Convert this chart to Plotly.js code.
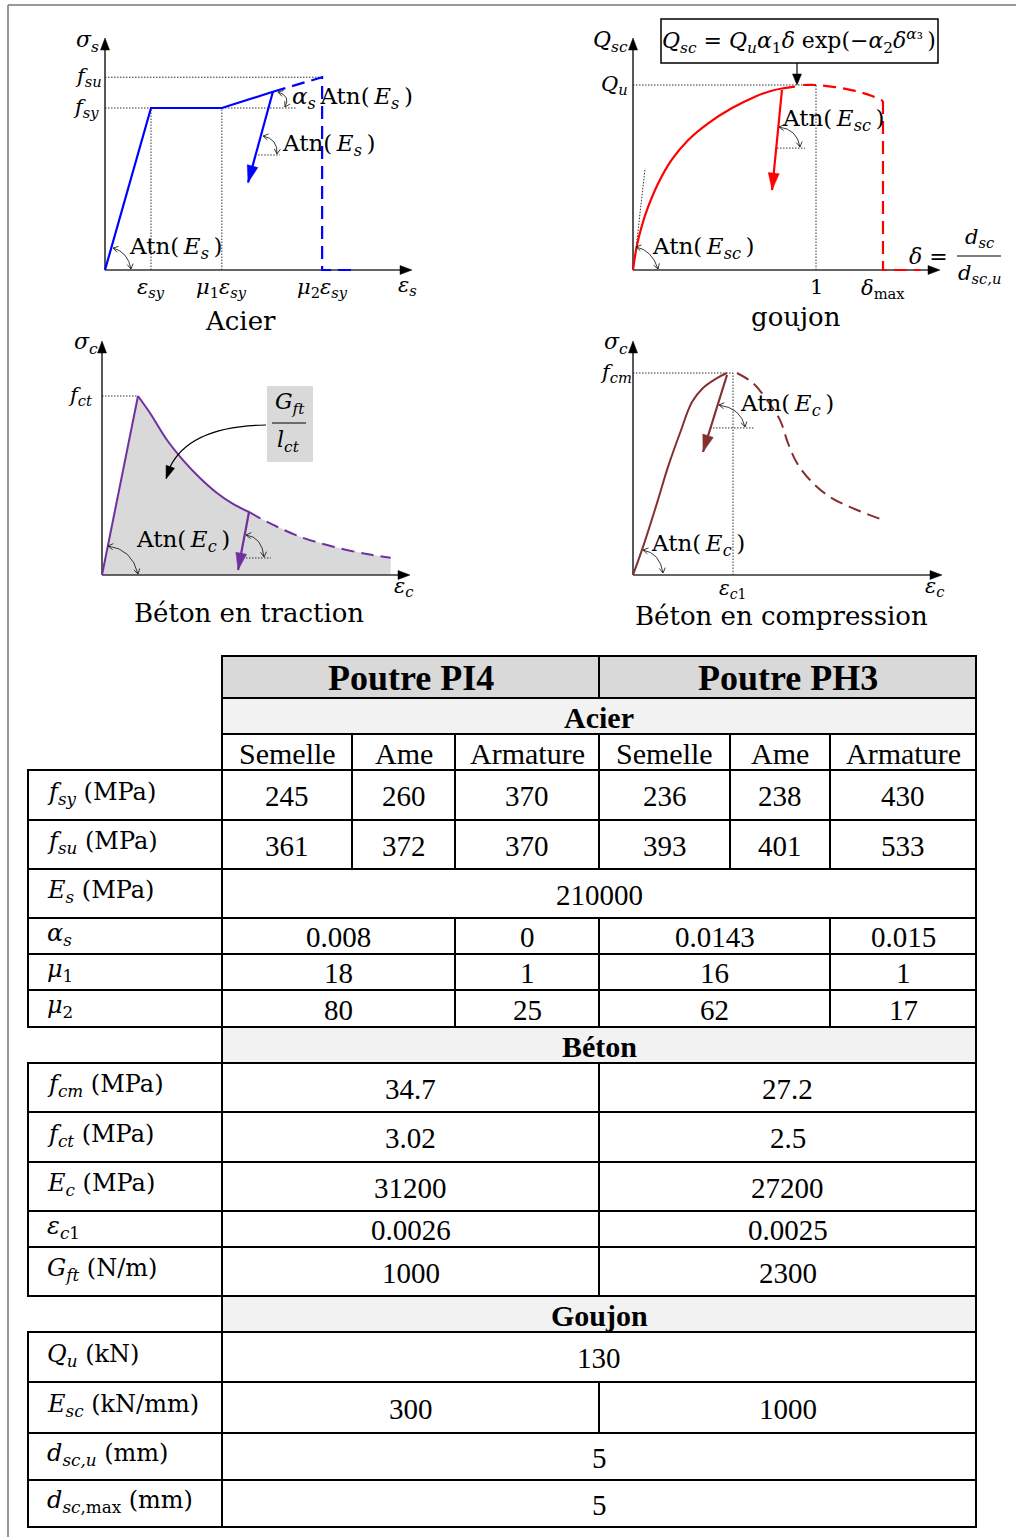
<!DOCTYPE html>
<html><head><meta charset="utf-8">
<script src="https://cdn.plot.ly/plotly-3.0.1.min.js"></script>
<style>html,body{margin:0;padding:0;background:#fff}#chart{width:1016px;height:1537px}</style>
</head><body><div id="chart"></div>
<script>
// ================= DIAGRAM DATA (schematic, normalised units) =================
// Acier : x = eps/eps_sy , y = sigma/f_sy
const acierSolidX = [0, 1, 2.54, 3.65];
const acierSolidY = [0, 1, 1, 1.10];
const acierDashX = [3.65, 4.72, 4.72, 5.37];
const acierDashY = [1.10, 1.19, 0, 0];
const acierUnloadX = [3.65, 3.11];
const acierUnloadY = [1.10, 0.54];
const acierTickX = [1, 2.54, 4.72];
const acierTickXText = ['<i>ε</i><sub><i>sy</i></sub>', '<i>μ</i><sub>1</sub><i>ε</i><sub><i>sy</i></sub>', '<i>μ</i><sub>2</sub><i>ε</i><sub><i>sy</i></sub>'];
const acierTickY = [1, 1.19];
const acierTickYText = ['<i>f</i><sub><i>sy</i></sub>', '<i>f</i><sub><i>su</i></sub>'];
const acierGuideFsyX = [0, 4.15];
const acierGuideFsuX = [0, 4.72];
const acierGuideUnloadX = [3.33, 3.80];
const acierGuideUnloadY = 0.71;

// Goujon : x = delta = d_sc/d_sc,u , y = Q/Q_u
const goujonSolidX = [0, 0.020, 0.047, 0.083, 0.138, 0.211, 0.302, 0.411, 0.539, 0.667, 0.758, 0.821, 0.885];
const goujonSolidY = [0, 0.126, 0.234, 0.342, 0.469, 0.595, 0.703, 0.793, 0.874, 0.937, 0.969, 0.982, 0.991];
const goujonDashX = [0.93, 1.0, 1.104, 1.213, 1.306, 1.366, 1.366, 1.57];
const goujonDashY = [1.0, 1.0, 0.989, 0.968, 0.941, 0.914, 0, 0];
const goujonTangentX = [0.020, 0.066];
const goujonTangentY = [0.146, 0.55];
const goujonUnloadX = [0.814, 0.760];
const goujonUnloadY = [0.973, 0.432];
const goujonTickX = [1, 1.366];
const goujonTickXText = ['1', '<i>δ</i><sub>max</sub>'];
const goujonTickY = [1];
const goujonTickYText = ['<i>Q</i><sub><i>u</i></sub>'];
const goujonGuideUnloadX = [0.787, 0.94];
const goujonGuideUnloadY = 0.659;

// Béton en traction : x = eps/eps_ct , y = sigma/f_ct
const tracRiseX = [0, 1];
const tracRiseY = [0, 1];
const tracSolidX = [1, 1.333, 1.806, 2.25, 2.722, 3.194, 3.639, 4.083];
const tracSolidY = [1, 0.905, 0.754, 0.642, 0.542, 0.458, 0.397, 0.352];
const tracDashX = [4.083, 4.575, 5.5, 6.425, 7.353, 8.019];
const tracDashY = [0.352, 0.298, 0.214, 0.158, 0.117, 0.097];
const tracUnloadX = [4.083, 3.78];
const tracUnloadY = [0.352, 0.028];
const tracTickY = [1];
const tracTickYText = ['<i>f</i><sub><i>ct</i></sub>'];
const tracGuideUnloadX = [4.0, 4.69];
const tracGuideUnloadY = 0.095;

// Béton en compression : x = eps/eps_c1 , y = sigma/f_cm
const compSolidX = [0, 0.10, 0.24, 0.35, 0.47, 0.59, 0.70, 0.84, 0.94];
const compSolidY = [0, 0.139, 0.356, 0.535, 0.703, 0.856, 0.926, 0.975, 1.0];
const compDashX = [1.04, 1.20, 1.34, 1.47, 1.55, 1.64, 1.77, 1.97, 2.24, 2.53];
const compDashY = [1.0, 0.950, 0.866, 0.767, 0.653, 0.554, 0.470, 0.386, 0.322, 0.267];
const compUnloadX = [0.94, 0.70];
const compUnloadY = [0.99, 0.609];
const compTickX = [1];
const compTickXText = ['<i>ε</i><sub><i>c</i>1</sub>'];
const compTickY = [1];
const compTickYText = ['<i>f</i><sub><i>cm</i></sub>'];
const compGuideUnloadX = [0.77, 1.22];
const compGuideUnloadY = 0.728;

// ================= TABLE DATA =================
const beams = ['Poutre PI4', 'Poutre PH3'];
const sections = ['Acier', 'Béton', 'Goujon'];
const parts = ['Semelle', 'Ame', 'Armature', 'Semelle', 'Ame', 'Armature'];
const fsy = [245, 260, 370, 236, 238, 430];
const fsu = [361, 372, 370, 393, 401, 533];
const Es = [210000];
const alphaS = [0.008, 0, 0.0143, 0.015];
const mu1 = [18, 1, 16, 1];
const mu2 = [80, 25, 62, 17];
const fcm = [34.7, 27.2];
const fct = [3.02, 2.5];
const Ec = [31200, 27200];
const epsC1 = [0.0026, 0.0025];
const Gft = [1000, 2300];
const Qu = [130];
const Esc = [300, 1000];
const dscU = [5];
const dscMax = [5];
const rowLabels = {
  fsy: '<i>f</i><sub><i>sy</i></sub> (MPa)', fsu: '<i>f</i><sub><i>su</i></sub> (MPa)',
  Es: '<i>E</i><sub><i>s</i></sub> (MPa)', alphaS: '<i>α</i><sub><i>s</i></sub>',
  mu1: '<i>μ</i><sub>1</sub>', mu2: '<i>μ</i><sub>2</sub>',
  fcm: '<i>f</i><sub><i>cm</i></sub> (MPa)', fct: '<i>f</i><sub><i>ct</i></sub> (MPa)',
  Ec: '<i>E</i><sub><i>c</i></sub> (MPa)', epsC1: '<i>ε</i><sub><i>c</i>1</sub>',
  Gft: '<i>G</i><sub><i>ft</i></sub> (N/m)', Qu: '<i>Q</i><sub><i>u</i></sub> (kN)',
  Esc: '<i>E</i><sub><i>sc</i></sub> (kN/mm)', dscU: '<i>d</i><sub><i>sc,u</i></sub> (mm)',
  dscMax: '<i>d</i><sub><i>sc</i>,max</sub> (mm)'
};

// ================= LAYOUT HELPERS =================
const W = 1016, H = 1537;
const FM = 'DejaVu Serif, serif';
const FT = 'Liberation Serif, Times New Roman, serif';
const BLUE = '#0000ff', RED = '#ff0000', PURPLE = '#7030a0', BROWN = '#843030';
const PAD = 6;
const TS = '\u2009';
function atn(sub) { return 'Atn(' + TS + '<i>E</i><sub><i>' + sub + '</i></sub>' + TS + ')'; }
const D = {
  acier: {ox:105, oy:270, sx:46, sy:162, xTip:412, yTip:38, n:2},
  goujon: {ox:633, oy:270, sx:183, sy:185, xTip:940, yTip:38, n:3},
  trac: {ox:102, oy:575, sx:36, sy:179, xTip:410, yTip:341, n:4},
  comp: {ox:633, oy:575, sx:100, sy:202, xTip:942, yTip:341, n:5}
};
function px(d, x, y) { return [d.ox + x * d.sx, d.oy - y * d.sy]; }

const layout = {
  width: W, height: H, margin: {l:0, r:0, t:0, b:0},
  paper_bgcolor: '#ffffff', plot_bgcolor: 'rgba(0,0,0,0)', showlegend: false,
  xaxis: {domain:[0,1], range:[0,W], visible:false, fixedrange:true},
  yaxis: {domain:[0,1], range:[H,0], visible:false, fixedrange:true},
  shapes: [], annotations: []
};
Object.values(D).forEach(d => {
  d.xa = 'x' + d.n; d.ya = 'y' + d.n;
  layout['xaxis' + d.n] = {domain:[(d.ox - PAD) / W, d.xTip / W], range:[-PAD / d.sx, (d.xTip - d.ox) / d.sx],
    visible:false, fixedrange:true, anchor: d.ya};
  layout['yaxis' + d.n] = {domain:[1 - (d.oy + PAD) / H, 1 - d.yTip / H], range:[-PAD / d.sy, (d.oy - d.yTip) / d.sy],
    visible:false, fixedrange:true, anchor: d.xa};
});

const traces = [{type:'scatter', mode:'markers', x:[0], y:[0], xaxis:'x', yaxis:'y', marker:{opacity:0}, hoverinfo:'skip'}];
function line(d, xs, ys, color, width, dash, shape) {
  traces.push({type:'scatter', mode:'lines', x:xs, y:ys, xaxis:d.xa, yaxis:d.ya, hoverinfo:'skip',
    line:{color:color, width:width, dash:dash || 'solid', shape:shape || 'linear', smoothing:1}});
}
function guide(d, xs, ys) { line(d, xs, ys, '#333', 1, '1.5px,1.5px'); }
function axes(d) {
  line(d, [0, (d.xTip - 10 - d.ox) / d.sx], [0, 0], '#333', 1.5);
  line(d, [0, 0], [0, (d.oy - d.yTip - 10) / d.sy], '#222', 1.5);
}
function tri(tip, tail, len, half, color) {
  const dx = tip[0] - tail[0], dy = tip[1] - tail[1], L = Math.hypot(dx, dy);
  const ux = dx / L, uy = dy / L, bx = tip[0] - ux * len, by = tip[1] - uy * len;
  layout.shapes.push({type:'path', xref:'x', yref:'y', layer:'above', fillcolor:color, line:{color:color, width:0.5},
    path:`M${tip[0]},${tip[1]} L${bx - uy * half},${by + ux * half} L${bx + uy * half},${by - ux * half} Z`});
}
function chevron(tip, from) {
  const dx = tip[0] - from[0], dy = tip[1] - from[1], L = Math.hypot(dx, dy);
  const ux = dx / L, uy = dy / L, s = 5, w = 3, bx = tip[0] - ux * s, by = tip[1] - uy * s;
  return ` M${bx - uy * w},${by + ux * w} L${tip[0]},${tip[1]} L${bx + uy * w},${by - ux * w}`;
}
function arc(p0, c, p1) {
  layout.shapes.push({type:'path', xref:'x', yref:'y', layer:'above', line:{color:'#222', width:0.9},
    path:`M${p0[0]},${p0[1]} Q${c[0]},${c[1]} ${p1[0]},${p1[1]}` + chevron(p0, c) + chevron(p1, c)});
}
function txt(x, y, text, size, opts) {
  layout.annotations.push(Object.assign({xref:'x', yref:'y', x:x, y:y, text:text, showarrow:false,
    xanchor:'center', yanchor:'middle', font:{family:FM, size:size || 22, color:'#000'}}, opts || {}));
}
function dtxt(d, x, y, text, xs, ys, size) {
  layout.annotations.push({xref:d.xa, yref:d.ya, x:x, y:y, text:text, showarrow:false, xshift:xs, yshift:ys,
    xanchor:'center', yanchor:'middle', font:{family:FM, size:size || 21, color:'#000'}});
}
function axisHeads(d) {
  tri([d.xTip, d.oy], [d.ox, d.oy], 12, 4.5, '#000');
  tri([d.ox, d.yTip], [d.ox, d.oy], 12, 4.5, '#000');
}
function unload(d, xs, ys, color) {
  line(d, xs, ys, color, 2.2);
  tri(px(d, xs[1], ys[1]), px(d, xs[0], ys[0]), 17, 5.5, color);
}

// ---------- Frame ----------
layout.shapes.push({type:'line', xref:'x', yref:'y', x0:8, y0:5, x1:W, y1:5, line:{color:'#777', width:1.5}});
layout.shapes.push({type:'line', xref:'x', yref:'y', x0:8, y0:5, x1:8, y1:H, line:{color:'#777', width:1.5}});

// ---------- Acier ----------
(function () {
  const d = D.acier;
  guide(d, acierGuideFsuX, [acierTickY[1], acierTickY[1]]);
  guide(d, acierGuideFsyX, [acierTickY[0], acierTickY[0]]);
  guide(d, [acierTickX[0], acierTickX[0]], [0, 1]);
  guide(d, [acierTickX[1], acierTickX[1]], [0, 1]);
  guide(d, acierGuideUnloadX, [acierGuideUnloadY, acierGuideUnloadY]);
  axes(d);
  line(d, acierSolidX, acierSolidY, BLUE, 2.2);
  line(d, acierDashX, acierDashY, BLUE, 2.2, '13px,7px');
  unload(d, acierUnloadX, acierUnloadY, BLUE);
  axisHeads(d);
  acierTickX.forEach((v, i) => dtxt(d, v, 0, acierTickXText[i], 0, -18));
  acierTickY.forEach((v, i) => dtxt(d, 0, v, acierTickYText[i], i ? -17 : -19, 0));
  txt(87, 41, '<i>σ</i><sub><i>s</i></sub>');
  txt(407, 286, '<i>ε</i><sub><i>s</i></sub>', 21);
  txt(352, 98, '<i>α</i><sub><i>s</i></sub>' + TS + atn('s'), 23);
  txt(328, 145, atn('s'), 23);
  txt(175, 248, atn('s'), 23);
  txt(240, 321, 'Acier', 26);
  arc([113, 248], [128, 252], [131, 269]);
  arc([278, 92], [291, 96], [285, 107]);
  arc([263, 136], [278, 139], [277, 154]);
})();

// ---------- Goujon ----------
(function () {
  const d = D.goujon;
  guide(d, [0, goujonTickX[0]], [1, 1]);
  guide(d, [goujonTickX[0], goujonTickX[0]], [0, 1]);
  guide(d, goujonTangentX, goujonTangentY);
  guide(d, goujonGuideUnloadX, [goujonGuideUnloadY, goujonGuideUnloadY]);
  axes(d);
  line(d, goujonSolidX, goujonSolidY, RED, 2.2, 'solid', 'spline');
  line(d, goujonDashX.slice(0, 6), goujonDashY.slice(0, 6), RED, 2.2, '13px,7px', 'spline');
  line(d, goujonDashX.slice(5), goujonDashY.slice(5), RED, 2.2, '13px,7px');
  unload(d, goujonUnloadX, goujonUnloadY, RED);
  axisHeads(d);
  goujonTickX.forEach((v, i) => dtxt(d, v, 0, goujonTickXText[i], 0, i ? -19 : -17));
  goujonTickY.forEach((v, i) => dtxt(d, 0, v, goujonTickYText[i], -19, 0));
  txt(610, 41, '<i>Q</i><sub><i>sc</i></sub>');
  layout.shapes.push({type:'rect', xref:'x', yref:'y', x0:661, y0:19, x1:938, y1:63, line:{color:'#000', width:1.5}});
  txt(799, 41, '<i>Q</i><sub><i>sc</i></sub> = <i>Q</i><sub><i>u</i></sub><i>α</i><sub>1</sub><i>δ</i> exp(−<i>α</i><sub>2</sub><i>δ</i><sup><i>α</i>₃</sup>' + TS + ')', 22);
  layout.shapes.push({type:'line', xref:'x', yref:'y', x0:797, y0:63, x1:797, y1:78, line:{color:'#000', width:1.2}});
  tri([797, 85], [797, 63], 11, 4.5, '#000');
  txt(928, 256, '<i>δ</i> =', 22);
  txt(979, 238, '<i>d</i><sub><i>sc</i></sub>', 21);
  layout.shapes.push({type:'line', xref:'x', yref:'y', x0:957, y0:256, x1:1001, y1:256, line:{color:'#000', width:1}});
  txt(979, 274, '<i>d</i><sub><i>sc,u</i></sub>', 21);
  txt(833, 120, atn('sc'), 23);
  txt(703, 248, atn('sc'), 23);
  txt(796, 317, 'goujon', 26);
  arc([636, 247], [652, 250], [658, 269]);
  arc([779, 127], [797, 129], [800, 147]);
})();

// ---------- Béton en traction ----------
(function () {
  const d = D.trac;
  const fx = tracRiseX.concat(tracSolidX.slice(1), tracDashX.slice(1), [tracDashX[tracDashX.length - 1], 0]);
  const fy = tracRiseY.concat(tracSolidY.slice(1), tracDashY.slice(1), [0, 0]);
  traces.push({type:'scatter', mode:'lines', x:fx, y:fy, xaxis:d.xa, yaxis:d.ya, fill:'toself',
    fillcolor:'#d9d9d9', line:{width:0, color:'rgba(0,0,0,0)'}, hoverinfo:'skip'});
  guide(d, [0, 1], [1, 1]);
  guide(d, tracGuideUnloadX, [tracGuideUnloadY, tracGuideUnloadY]);
  axes(d);
  line(d, tracRiseX, tracRiseY, PURPLE, 2);
  line(d, tracSolidX, tracSolidY, PURPLE, 2, 'solid', 'spline');
  line(d, tracDashX, tracDashY, PURPLE, 2, '13px,7px', 'spline');
  unload(d, tracUnloadX, tracUnloadY, PURPLE);
  axisHeads(d);
  tracTickY.forEach((v, i) => dtxt(d, 0, v, tracTickYText[i], -22, 0));
  txt(86, 343, '<i>σ</i><sub><i>c</i></sub>');
  txt(404, 587, '<i>ε</i><sub><i>c</i></sub>', 21);
  txt(183, 541, atn('c'), 23);
  txt(249, 613, 'Béton en traction', 26);
  layout.shapes.push({type:'rect', xref:'x', yref:'y', x0:267, y0:386, x1:313, y1:462, fillcolor:'#d9d9d9', line:{width:0}});
  txt(290, 403, '<i>G</i><sub><i>ft</i></sub>', 22);
  layout.shapes.push({type:'line', xref:'x', yref:'y', x0:272, y0:423, x1:306, y1:423, line:{color:'#000', width:1}});
  txt(288, 441, '<i>l</i><sub><i>ct</i></sub>', 22);
  layout.shapes.push({type:'path', xref:'x', yref:'y', layer:'above', line:{color:'#000', width:1.2},
    path:'M266,425 Q190,426 170,467'});
  tri([166, 479], [172, 462], 13, 4.5, '#000');
  arc([108, 546], [132, 549], [138, 574]);
  arc([246, 535], [262, 537], [264, 557]);
})();

// ---------- Béton en compression ----------
(function () {
  const d = D.comp;
  guide(d, [0, compTickX[0]], [1, 1]);
  guide(d, [compTickX[0], compTickX[0]], [0, 1]);
  guide(d, compGuideUnloadX, [compGuideUnloadY, compGuideUnloadY]);
  axes(d);
  line(d, compSolidX, compSolidY, BROWN, 2, 'solid', 'spline');
  line(d, compDashX, compDashY, BROWN, 2, '13px,7px', 'spline');
  unload(d, compUnloadX, compUnloadY, BROWN);
  axisHeads(d);
  compTickX.forEach((v, i) => dtxt(d, v, 0, compTickXText[i], 0, -14, 20));
  compTickY.forEach((v, i) => dtxt(d, 0, v, compTickYText[i], -17, 0));
  txt(616, 343, '<i>σ</i><sub><i>c</i></sub>');
  txt(935, 587, '<i>ε</i><sub><i>c</i></sub>', 21);
  txt(787, 405, atn('c'), 23);
  txt(698, 545, atn('c'), 23);
  txt(781, 616, 'Béton en compression', 26);
  arc([643, 550], [660, 553], [663, 573]);
  arc([719, 405], [741, 408], [745, 427]);
})();

// ================= TABLE =================
const colX = [28, 222, 352, 455, 599, 730, 830, 976];
const rowY = [656, 698, 734, 770, 820, 869, 918, 954, 990, 1027, 1063, 1112, 1162, 1211, 1247, 1296, 1332, 1382, 1433, 1480, 1527];
function spans(n) {
  if (n === 6) return [[1,2],[2,3],[3,4],[4,5],[5,6],[6,7]];
  if (n === 4) return [[1,3],[3,4],[4,6],[6,7]];
  if (n === 2) return [[1,4],[4,7]];
  return [[1,7]];
}
const tableRows = [
  {texts: beams, fill:'#d9d9d9', bold:true, size:36},
  {texts: [sections[0]], fill:'#f2f2f2', bold:true, size:30},
  {texts: parts, fill:null, size:30},
  {label: rowLabels.fsy, texts: fsy},
  {label: rowLabels.fsu, texts: fsu},
  {label: rowLabels.Es, texts: Es},
  {label: rowLabels.alphaS, texts: alphaS},
  {label: rowLabels.mu1, texts: mu1},
  {label: rowLabels.mu2, texts: mu2},
  {texts: [sections[1]], fill:'#f2f2f2', bold:true, size:30},
  {label: rowLabels.fcm, texts: fcm},
  {label: rowLabels.fct, texts: fct},
  {label: rowLabels.Ec, texts: Ec},
  {label: rowLabels.epsC1, texts: epsC1},
  {label: rowLabels.Gft, texts: Gft},
  {texts: [sections[2]], fill:'#f2f2f2', bold:true, size:30},
  {label: rowLabels.Qu, texts: Qu},
  {label: rowLabels.Esc, texts: Esc},
  {label: rowLabels.dscU, texts: dscU},
  {label: rowLabels.dscMax, texts: dscMax}
];
tableRows.forEach((r, i) => {
  const y0 = rowY[i], y1 = rowY[i + 1], yc = (y0 + y1) / 2;
  if (r.label !== undefined) {
    layout.shapes.push({type:'rect', xref:'x', yref:'y', x0:colX[0], x1:colX[1], y0:y0, y1:y1, line:{color:'#000', width:2}});
    txt(colX[0] + 17, yc - 2, r.label, 24, {xanchor:'left'});
  }
  spans(r.texts.length).forEach((s, j) => {
    const x0 = colX[s[0]], x1 = colX[s[1]];
    layout.shapes.push({type:'rect', xref:'x', yref:'y', x0:x0, x1:x1, y0:y0, y1:y1,
      fillcolor: r.fill || 'rgba(0,0,0,0)', line:{color:'#000', width:2}, layer:'below'});
    const t = String(r.texts[j]);
    const sz = r.size || 29;
    txt((x0 + x1) / 2, yc + 1, r.bold ? '<b>' + t + '</b>' : t, sz, {font:{family:FT, size:sz, color:'#000'}});
  });
});

Plotly.newPlot('chart', traces, layout, {staticPlot:true, displayModeBar:false});
</script>
</body></html>
